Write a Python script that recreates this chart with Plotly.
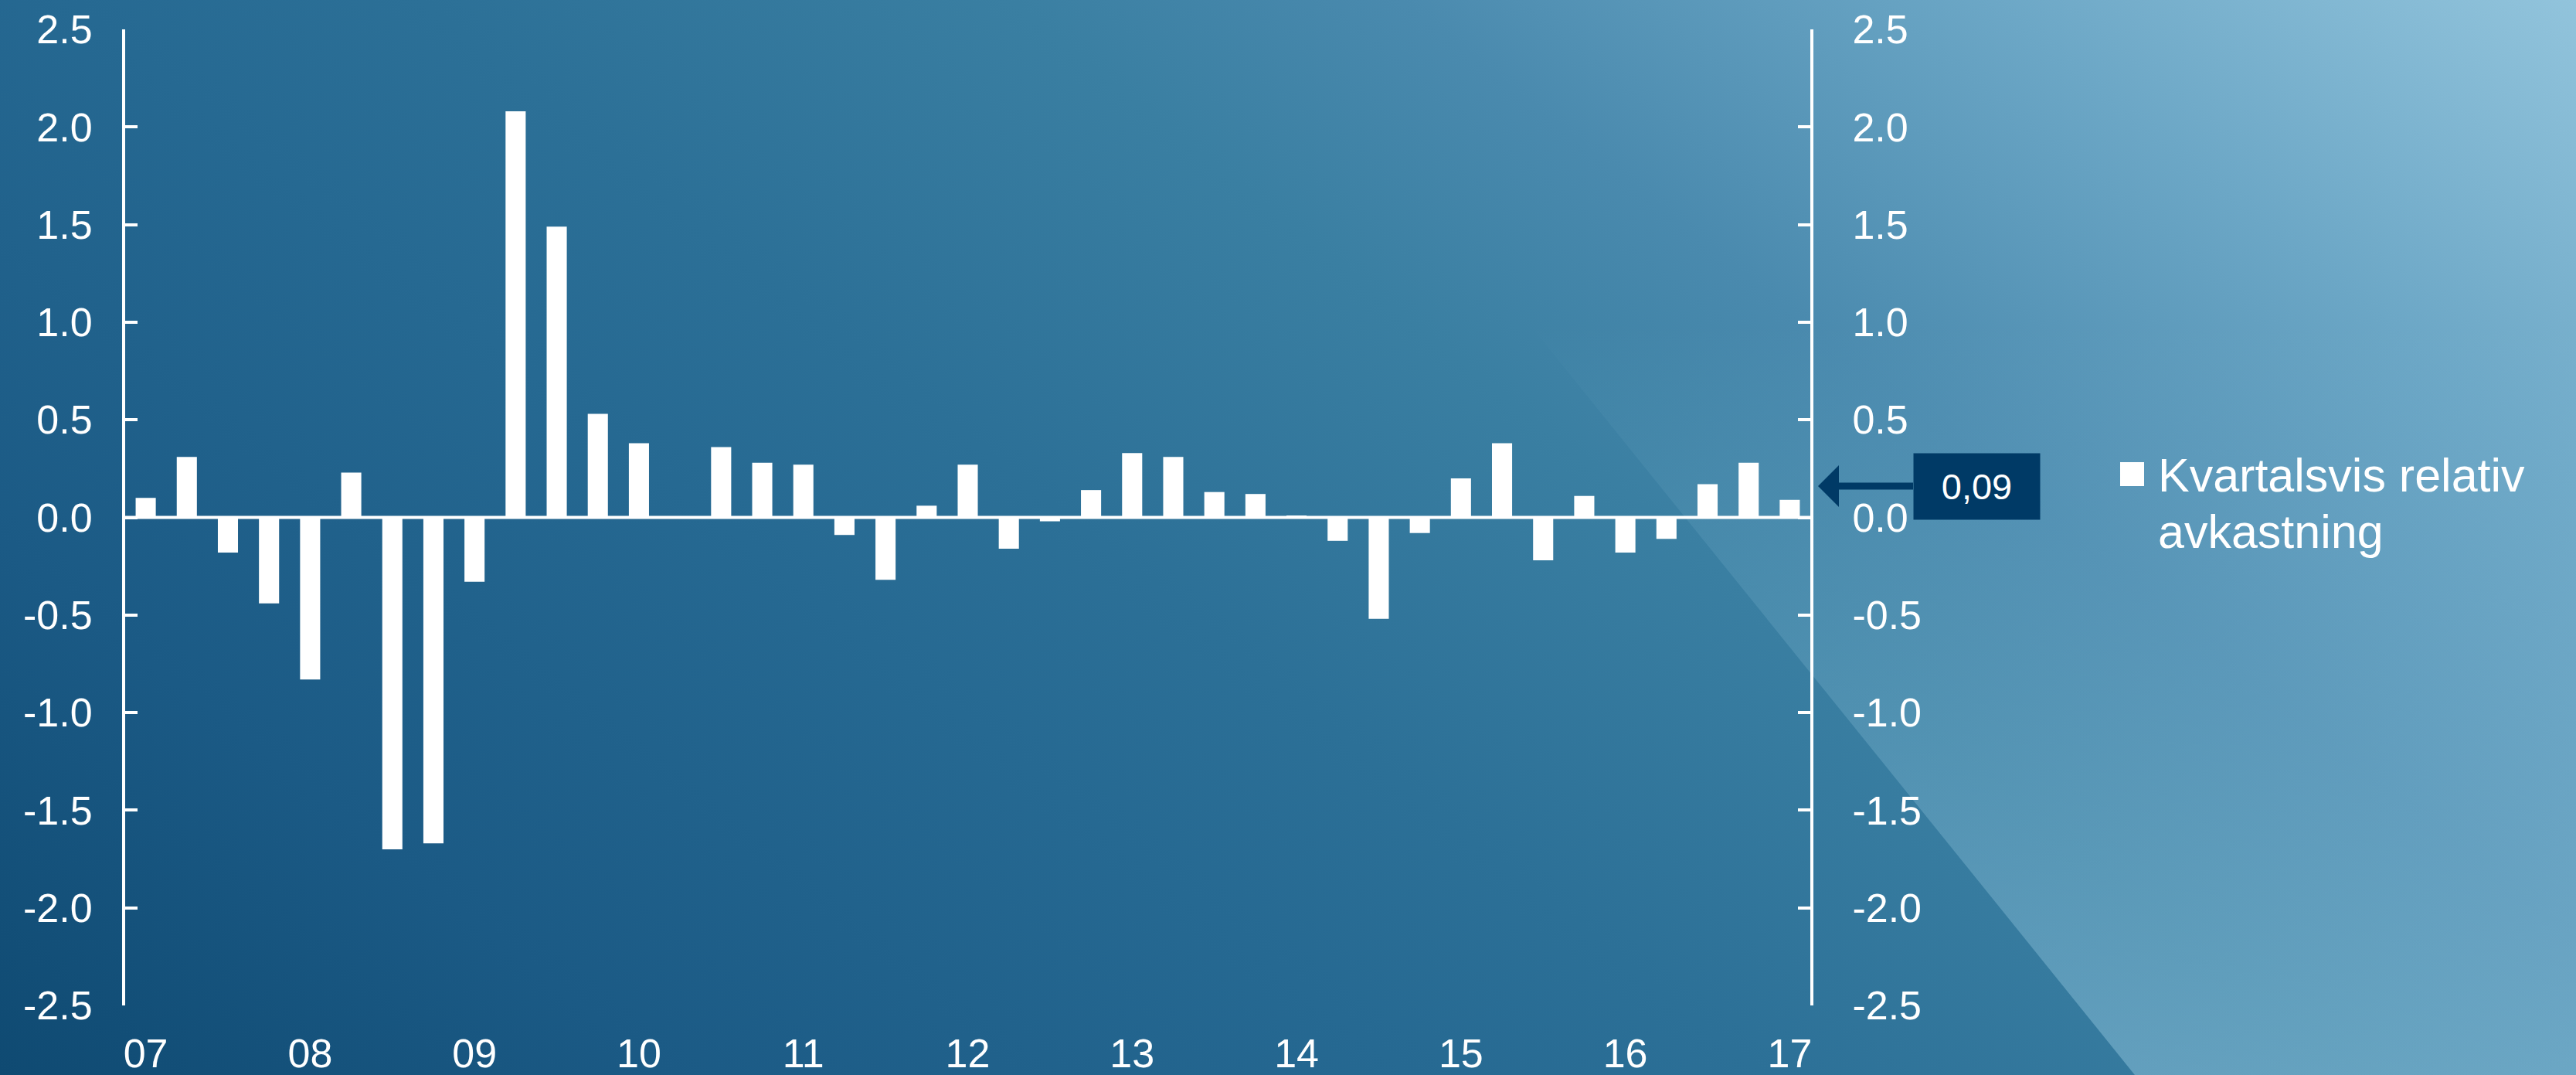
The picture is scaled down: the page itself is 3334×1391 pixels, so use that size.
import base64
import plotly.graph_objects as go

# ---------------- data ----------------
quarters = [
    "07K1", "07K2", "07K3", "07K4",
    "08K1", "08K2", "08K3", "08K4",
    "09K1", "09K2", "09K3", "09K4",
    "10K1", "10K2", "10K3", "10K4",
    "11K1", "11K2", "11K3", "11K4",
    "12K1", "12K2", "12K3", "12K4",
    "13K1", "13K2", "13K3", "13K4",
    "14K1", "14K2", "14K3", "14K4",
    "15K1", "15K2", "15K3", "15K4",
    "16K1", "16K2", "16K3", "16K4",
    "17K1",
]
relative_return = [
    0.10, 0.31, -0.18, -0.44,
    -0.83, 0.23, -1.70, -1.67,
    -0.33, 2.08, 1.49, 0.53,
    0.38, 0.00, 0.36, 0.28,
    0.27, -0.09, -0.32, 0.06,
    0.27, -0.16, -0.02, 0.14,
    0.33, 0.31, 0.13, 0.12,
    0.01, -0.12, -0.52, -0.08,
    0.20, 0.38, -0.22, 0.11,
    -0.18, -0.11, 0.17, 0.28,
    0.09,
]
x_tick_cats = ["07K1", "08K1", "09K1", "10K1", "11K1", "12K1",
               "13K1", "14K1", "15K1", "16K1", "17K1"]
x_tick_text = ["07", "08", "09", "10", "11", "12", "13", "14", "15", "16", "17"]
y_tick_vals = [-2.5, -2.0, -1.5, -1.0, -0.5, 0.0, 0.5, 1.0, 1.5, 2.0, 2.5]
y_tick_text = ["-2.5", "-2.0", "-1.5", "-1.0", "-0.5", "0.0",
               "0.5", "1.0", "1.5", "2.0", "2.5"]
series_name_lines = ["Kvartalsvis relativ", "avkastning"]
latest_label = "0,09"

# ---------------- geometry ----------------
W, H = 3334, 1391
ML, MR, MT, MB = 162, 991, 38, 90
PW, PH = W - ML - MR, H - MT - MB

FONT = "Liberation Sans, Arial, sans-serif"
WHITE = "#ffffff"
NAVY = "#003a66"

# background gradient as svg
svg = f"""<svg xmlns='http://www.w3.org/2000/svg' width='{W}' height='{H}' viewBox='0 0 {W} {H}' preserveAspectRatio='none'>
<defs>
<linearGradient id='g' gradientUnits='userSpaceOnUse' x1='0' y1='{H}' x2='1981' y2='-1085'>
<stop offset='0' stop-color='#0f4a72'/>
<stop offset='0.17' stop-color='#1b5a85'/>
<stop offset='0.36' stop-color='#266992'/>
<stop offset='0.45' stop-color='#2c7097'/>
<stop offset='0.6' stop-color='#3a7fa2'/>
<stop offset='0.7' stop-color='#4a8aae'/>
<stop offset='0.85' stop-color='#6ca7c6'/>
<stop offset='1' stop-color='#92c4dc'/>
</linearGradient>
<linearGradient id='o' gradientUnits='userSpaceOnUse' x1='0' y1='0' x2='0' y2='{H}'>
<stop offset='0.3' stop-color='#b4e2f5' stop-opacity='0'/>
<stop offset='1' stop-color='#b4e2f5' stop-opacity='0.36'/>
</linearGradient>
</defs>
<rect x='0' y='0' width='{W}' height='{H}' fill='url(#g)'/>
<polygon points='1641,0 {W},0 {W},{H} 2763,{H}' fill='url(#o)'/>
</svg>"""
bg_uri = "data:image/svg+xml;base64," + base64.b64encode(svg.encode()).decode()

fig = go.Figure()
fig.add_trace(go.Bar(
    x=quarters, y=relative_return,
    marker=dict(color=WHITE, line=dict(width=0)),
    name=" ".join(series_name_lines),
    showlegend=False, hoverinfo="skip",
))
# invisible companion so the right-hand axis is rendered
fig.add_trace(go.Scatter(
    x=quarters, y=relative_return, yaxis="y2", mode="markers",
    marker=dict(size=1, opacity=0), showlegend=False, hoverinfo="skip",
))

axis_common = dict(
    range=[-2.5, 2.5], tickvals=y_tick_vals, ticktext=y_tick_text,
    showgrid=False, zeroline=False, showline=True, linecolor=WHITE, linewidth=4,
    ticks="inside", ticklen=16, tickwidth=4, tickcolor=WHITE,
    tickfont=dict(family=FONT, size=52, color=WHITE),
    automargin=False,
)

fig.update_layout(
    width=W, height=H,
    margin=dict(l=ML, r=MR, t=MT, b=MB, pad=0, autoexpand=False),
    paper_bgcolor="#1f5f8a", plot_bgcolor="rgba(0,0,0,0)",
    bargap=0.51,
    showlegend=False,
    xaxis=dict(
        type="category", range=[-0.5, len(quarters) - 0.5],
        tickvals=x_tick_cats, ticktext=x_tick_text,
        showgrid=False, zeroline=False, showline=False, ticks="",
        tickfont=dict(family=FONT, size=52, color=WHITE),
        ticklabelstandoff=27, automargin=False,
    ),
    yaxis=dict(side="left", ticklabelstandoff=28, **axis_common),
    yaxis2=dict(side="right", overlaying="y", anchor="x", ticklabelstandoff=40,
                **axis_common),
    images=[dict(
        source=bg_uri, xref="paper", yref="paper",
        x=-ML / PW, y=1 + MT / PH, sizex=W / PW, sizey=H / PH,
        xanchor="left", yanchor="top", sizing="stretch", layer="below",
    )],
)

# zero line across the plot
fig.add_shape(type="line", xref="paper", yref="y", x0=0, x1=1, y0=0, y1=0,
              line=dict(color=WHITE, width=4), layer="below")

# latest value callout
fig.add_annotation(
    xref="paper", yref="y", x=(2353 - ML) / PW, y=0.16,
    axref="pixel", ayref="pixel", ax=205, ay=0,
    text=latest_label, showarrow=True,
    arrowhead=1, arrowsize=1.0, arrowwidth=9, arrowcolor=NAVY,
    bgcolor=NAVY, borderpad=7, width=149, height=71, align="center",
    font=dict(family=FONT, size=47, color=WHITE),
)

# custom legend
fig.add_shape(type="rect", xref="paper", yref="paper",
              x0=(2744 - ML) / PW, x1=(2775 - ML) / PW,
              y0=(H - MB - 629) / PH, y1=(H - MB - 598) / PH,
              fillcolor=WHITE, line=dict(width=0))
for i, line_txt in enumerate(series_name_lines):
    fig.add_annotation(
        xref="paper", yref="paper", x=(2791 - ML) / PW,
        y=(H - MB - (615 + 73 * i)) / PH,
        xanchor="left", yanchor="middle", showarrow=False,
        text=line_txt, font=dict(family=FONT, size=61, color=WHITE),
    )

fig.write_html(
    "out.html",
    config={"displayModeBar": False},
    post_script="document.body.style.margin='0';document.body.style.overflow='hidden';",
)
